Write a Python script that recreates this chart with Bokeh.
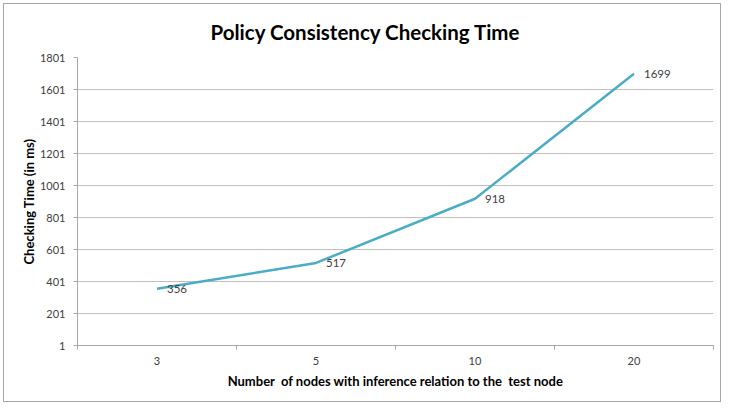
from bokeh.plotting import figure
from bokeh.models import Range1d, FixedTicker, ColumnDataSource, LabelSet
from bokeh.core.properties import value
from bokeh.embed import file_html
from bokeh.resources import INLINE

categories = ["3", "5", "10", "20"]
times_ms = [356, 517, 918, 1699]
y_ticks = [1, 201, 401, 601, 801, 1001, 1201, 1401, 1601, 1801]
title_text = "Policy Consistency Checking Time"

FONT = "Lato"
xs = [i + 0.5 for i in range(len(categories))]

src = ColumnDataSource(dict(x=xs, y=times_ms, lab=[str(v) for v in times_ms]))

p = figure(width=718, height=399, output_backend="svg", toolbar_location=None,
           x_range=Range1d(0, len(categories)), y_range=Range1d(y_ticks[0], y_ticks[-1]),
           min_border_left=73, min_border_right=9, min_border_top=53, min_border_bottom=58,
           title=title_text)
p.styles = {"border": "1px solid #a6a6a6",
            "margin-left": "3px", "margin-top": "3px"}

p.title.text_font = FONT
p.title.text_font_size = "20.5px"
p.title.text_font_style = "bold"
p.title.text_color = "#000000"
p.title.align = "left"
p.title.offset = 133
p.title.standoff = 27

p.outline_line_color = None
p.xgrid.grid_line_color = None
p.ygrid.grid_line_color = "#bfbfbf"
p.ygrid.grid_line_width = 1

p.line("x", "y", source=src, line_color="#4bacc6", line_width=2.5)
p.add_layout(LabelSet(x="x", y="y", text="lab", source=src, x_offset=10, y_offset=0,
                      text_font=value(FONT), text_font_size=value("11.5px"),
                      text_color="#404040", text_baseline="middle"))

# x axis
p.xaxis.ticker = FixedTicker(ticks=xs, minor_ticks=list(range(len(categories) + 1)))
p.xaxis.major_label_overrides = {x: c for x, c in zip(xs, categories)}
p.xaxis.major_tick_out = 0
p.xaxis.major_tick_in = 0
p.xaxis.minor_tick_out = 4
p.xaxis.minor_tick_in = 0
p.xaxis.minor_tick_line_color = "#a6a6a6"
p.xaxis.axis_line_color = "#a6a6a6"
p.xaxis.major_label_standoff = 7
p.xaxis.major_label_text_font = FONT
p.xaxis.major_label_text_font_size = "11px"
p.xaxis.major_label_text_color = "#404040"
p.xaxis.axis_label = "Number\u00a0 of nodes with inference relation to the\u00a0 test node"
p.xaxis.axis_label_text_font = FONT
p.xaxis.axis_label_text_font_size = "13px"
p.xaxis.axis_label_text_font_style = "bold"
p.xaxis.axis_label_text_color = "#000000"
p.xaxis.axis_label_standoff = 5

# y axis
p.yaxis.ticker = FixedTicker(ticks=y_ticks)
p.yaxis.minor_tick_line_color = None
p.yaxis.major_tick_out = 4
p.yaxis.major_tick_in = 0
p.yaxis.major_tick_line_color = "#a6a6a6"
p.yaxis.axis_line_color = "#a6a6a6"
p.yaxis.major_label_standoff = 8
p.yaxis.major_label_text_font = FONT
p.yaxis.major_label_text_font_size = "11px"
p.yaxis.major_label_text_color = "#404040"
p.yaxis.axis_label = "Checking Time (in ms)"
p.yaxis.axis_label_text_font = FONT
p.yaxis.axis_label_text_font_size = "13px"
p.yaxis.axis_label_text_font_style = "bold"
p.yaxis.axis_label_text_color = "#000000"
p.yaxis.axis_label_standoff = 0

open("out.html", "w").write(file_html(p, INLINE))
